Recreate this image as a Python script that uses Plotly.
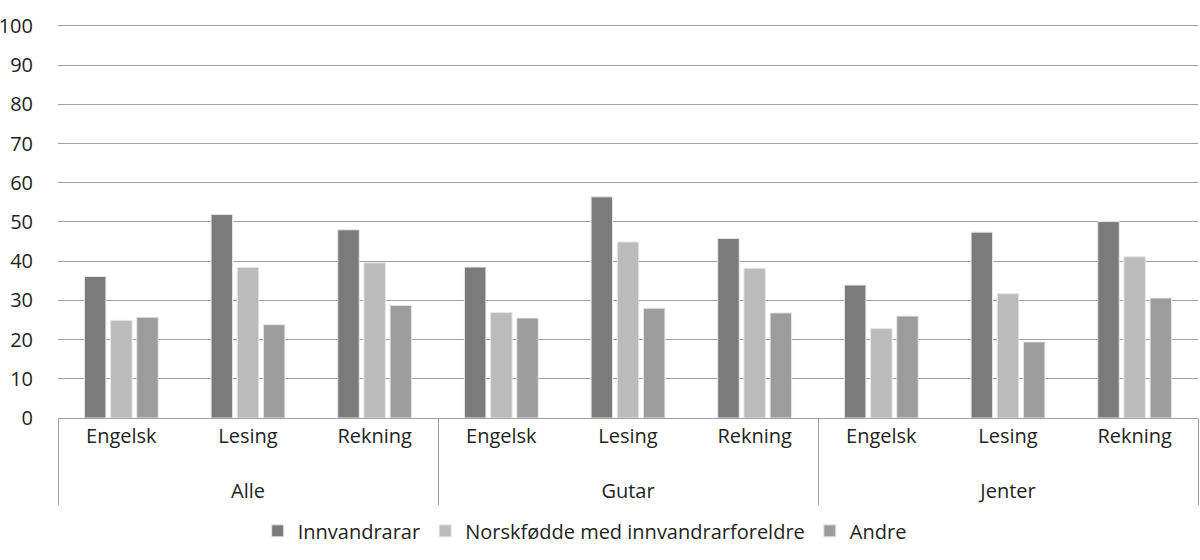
import plotly.graph_objects as go

groups = ["Alle", "Alle", "Alle", "Gutar", "Gutar", "Gutar", "Jenter", "Jenter", "Jenter"]
subjects = ["Engelsk", "Lesing", "Rekning"] * 3

series_names = ["Innvandrarar", "Norskfødde med innvandrarforeldre", "Andre"]
innvandrarar = [36.1, 51.9, 48.0, 38.5, 56.4, 45.8, 33.9, 47.4, 50.1]
norskfodde = [24.9, 38.4, 39.6, 26.9, 44.9, 38.2, 22.8, 31.7, 41.1]
andre = [25.7, 23.8, 28.7, 25.5, 28.0, 26.8, 26.0, 19.4, 30.6]
colors = ["#7b7b7b", "#bbbbbb", "#9c9c9c"]

y_ticks = [0, 10, 20, 30, 40, 50, 60, 70, 80, 90, 100]

outer_labels = ["<br>" + g for g in groups]

fig = go.Figure()
for name, vals, col in zip(series_names, [innvandrarar, norskfodde, andre], colors):
    fig.add_trace(go.Bar(
        x=[outer_labels, subjects], y=vals, name=name,
        marker=dict(color=col, line=dict(color="#e6e6e6", width=1)),
    ))

fig.update_layout(
    width=1200, height=560,
    paper_bgcolor="white", plot_bgcolor="white",
    margin=dict(l=58, r=2, t=22, b=142, autoexpand=False),
    barmode="group", bargap=0.38, bargroupgap=0.18,
    font=dict(family="Open Sans", size=20, color="#231f20"),
    showlegend=True,
    legend=dict(orientation="h", x=0.462, xanchor="center", y=-0.285, yanchor="middle",
                font=dict(size=20), itemwidth=30, traceorder="normal"),
)
fig.update_yaxes(range=[0, 101], tickvals=y_ticks, showgrid=True, gridcolor="#a0a0a0",
                 gridwidth=1, zeroline=False, showline=False, ticks="", ticklabelstandoff=24,
                 automargin=False, tickfont=dict(size=20))
fig.update_xaxes(type="multicategory", showline=True, linecolor="#a0a0a0", linewidth=1,
                 showdividers=True, dividercolor="#a0a0a0", dividerwidth=1,
                 ticks="", automargin=False, tickfont=dict(size=20))

fig.write_html("out.html", config={"displayModeBar": False},
               post_script="document.body.style.margin='0';document.body.style.overflow='hidden';")
